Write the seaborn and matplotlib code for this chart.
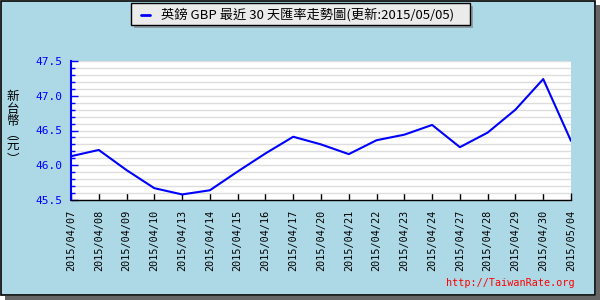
import matplotlib
matplotlib.use("Agg")
import matplotlib.pyplot as plt
import seaborn as sns
import pandas as pd
from matplotlib.patches import Rectangle
from matplotlib.lines import Line2D
from matplotlib.ticker import MultipleLocator

dates = ["2015/04/07", "2015/04/08", "2015/04/09", "2015/04/10", "2015/04/13",
         "2015/04/14", "2015/04/15", "2015/04/16", "2015/04/17", "2015/04/20",
         "2015/04/21", "2015/04/22", "2015/04/23", "2015/04/24", "2015/04/27",
         "2015/04/28", "2015/04/29", "2015/04/30", "2015/05/04"]
rates = [46.13, 46.22, 45.93, 45.67, 45.58, 45.64, 45.91, 46.17, 46.41, 46.30,
         46.16, 46.36, 46.44, 46.58, 46.26, 46.47, 46.80, 47.24, 46.35]
title = "英鎊 GBP 最近 30 天匯率走勢圖(更新:2015/05/05)"
ylabel = "新\n台\n幣\n︵\n元\n︶"
watermark = "http://TaiwanRate.org"

sns.set_theme(style="white")
plt.rcParams['font.family'] = ['DejaVu Sans Mono', 'Noto Sans CJK TC']

W, H = 600, 300
fig = plt.figure(figsize=(6, 3), dpi=100, facecolor="white")

def fx(px):
    return px / W

def fy(py):
    return 1 - py / H

# frame shadow and frame
fig.patches.append(Rectangle((fx(596), 0), fx(4), fy(5), transform=fig.transFigure,
                             facecolor="#666666", edgecolor="none", zorder=-3))
fig.patches.append(Rectangle((fx(5), 0), fx(595), 4 / H, transform=fig.transFigure,
                             facecolor="#666666", edgecolor="none", zorder=-3))
fig.patches.append(Rectangle((fx(0.5), fy(294.5)), fx(594), 294 / H, transform=fig.transFigure,
                             facecolor="#ADD8E6", edgecolor="black", lw=1.2, zorder=-2))

# legend box
fig.patches.append(Rectangle((fx(134), fy(28)), fx(339), 22 / H, transform=fig.transFigure,
                             facecolor="#8E9EA6", edgecolor="none", zorder=2))
fig.patches.append(Rectangle((fx(131), fy(25)), fx(339), 22 / H, transform=fig.transFigure,
                             facecolor="#EBEBEB", edgecolor="black", lw=1, zorder=3))
fig.lines.append(Line2D([fx(141), fx(150)], [fy(14.5), fy(14.5)], transform=fig.transFigure,
                        color="#0000FF", lw=2, zorder=4))
fig.text(fx(161), fy(14.5), title, ha="left", va="center", fontsize=9.5,
         family=["Noto Sans CJK TC", "DejaVu Sans"], color="black", zorder=5)

ax = fig.add_axes([fx(71), fy(200), fx(500), 139 / H])
ax.set_zorder(1)
ax.set_facecolor("white")
df = pd.DataFrame({"pos": range(len(dates)), "rate": rates})
sns.lineplot(data=df, x="pos", y="rate", ax=ax, color="#0000FF", lw=1.5)

ax.set_xlim(0, len(dates) - 1)
ax.set_ylim(45.5, 47.5)
ax.yaxis.set_major_locator(MultipleLocator(0.5))
ax.yaxis.set_minor_locator(MultipleLocator(0.1))
ax.set_xticks(range(len(dates)))
ax.set_xticklabels(dates, rotation=90, fontsize=7.3, color="black")
ax.set_yticks([45.5, 46.0, 46.5, 47.0, 47.5])
ax.set_yticklabels(["45.5", "46.0", "46.5", "47.0", "47.5"], fontsize=8, color="#0000FF")
ax.grid(which="both", axis="y", color="#DDDDDD", lw=1)
ax.grid(False, axis="x")
ax.set_axisbelow(True)
ax.set_xlabel("")
ax.set_ylabel("")
for s in ["top", "right"]:
    ax.spines[s].set_visible(False)
ax.spines["left"].set_color("#0000FF")
ax.spines["left"].set_linewidth(1.5)
ax.spines["bottom"].set_color("black")
ax.spines["bottom"].set_linewidth(1)
ax.tick_params(axis="y", which="major", direction="in", length=5, width=1, color="#0000FF",
               pad=6.5, left=True)
ax.tick_params(axis="y", which="minor", direction="in", length=3, width=1, color="#0000FF",
               left=True)
ax.tick_params(axis="x", direction="in", length=5, width=1, color="black", pad=7, bottom=True)

fig.text(fx(13), fy(128), ylabel, ha="center", va="center", fontsize=9, linespacing=0.95,
         family=["Noto Sans CJK TC", "DejaVu Sans"], color="black")
fig.text(fx(575), fy(283), watermark, ha="right", va="center", fontsize=7.3,
         family="DejaVu Sans Mono", color="red")

fig.savefig("out.png", dpi=100, facecolor="white")
